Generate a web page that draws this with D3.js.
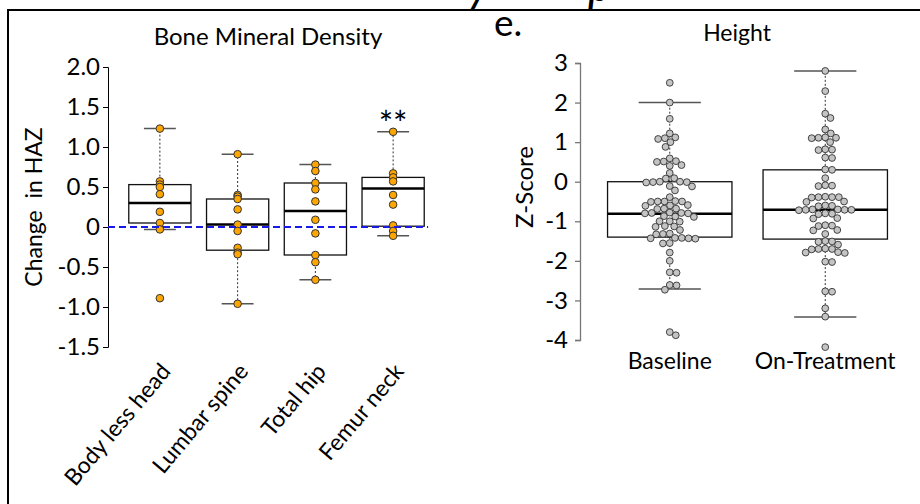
<!DOCTYPE html>
<html>
<head>
<meta charset="utf-8">
<script src="https://cdn.jsdelivr.net/npm/d3@7"></script>
<style>
  body { margin: 0; background: #fff; }
  svg { display: block; }
  text { font-family: Lato, "Open Sans", sans-serif; fill: #000; }
</style>
</head>
<body>
<svg id="chart" width="920" height="504"></svg>
<script>
// --- Bone mineral density (change in HAZ) ---
const bmdSites = ['Body less head', 'Lumbar spine', 'Total hip', 'Femur neck'];
const bmdQ1 = [0.05, -0.29, -0.35, 0.01];
const bmdMedian = [0.30, 0.03, 0.20, 0.48];
const bmdQ3 = [0.53, 0.35, 0.55, 0.62];
const bmdLow = [-0.03, -0.96, -0.66, -0.11];
const bmdHigh = [1.23, 0.91, 0.78, 1.19];
const bmdPoints = [
  [1.23, 0.57, 0.53, 0.50, 0.41, 0.19, 0.05, -0.03, -0.89],
  [0.91, 0.40, 0.38, 0.35, 0.22, 0.03, -0.05, -0.26, -0.32, -0.34, -0.96],
  [0.78, 0.70, 0.55, 0.47, 0.32, 0.09, -0.08, -0.35, -0.44, -0.66],
  [1.19, 0.67, 0.62, 0.57, 0.40, 0.28, 0.02, -0.05, -0.11]
];
const bmdSignif = ['', '', '', '**'];
const bmdTicks = [-1.5, -1.0, -0.5, 0, 0.5, 1.0, 1.5, 2.0];

// --- Height z-score ---
const heightGroups = ['Baseline', 'On-Treatment'];
const heightQ1 = [-1.40, -1.45];
const heightMedian = [-0.81, -0.71];
const heightQ3 = [0.0, 0.30];
const heightLow = [-2.71, -3.42];
const heightHigh = [2.00, 2.80];
const heightPoints = [
  [2.50, 2.00, 1.59, 1.22, 1.12, 1.10, 1.08, 1.00, 0.88, 0.59, 0.52, 0.51, 0.50, 0.42, 0.40,
   0.22, 0.09, 0.08, -0.01, -0.01, 0.0, -0.02, 0.0, -0.12, -0.11, -0.22, -0.39, -0.50, -0.50,
   -0.49, -0.51, -0.50, -0.60, -0.61, -0.59, -0.68, -0.68, -0.69, -0.79, -0.80, -0.79, -0.78,
   -0.80, -0.88, -0.89, -0.87, -1.00, -1.00, -1.01, -1.13, -1.12, -1.14, -1.22, -1.32, -1.33,
   -1.31, -1.43, -1.42, -1.44, -1.43, -1.42, -1.55, -1.56, -1.79, -2.00, -2.29, -2.30, -2.61,
   -2.62, -2.73, -3.80, -3.88],
  [2.80, 2.29, 1.72, 1.61, 1.32, 1.22, 1.11, 1.12, 1.10, 1.11, 1.00, 0.81, 0.82, 0.80, 0.60,
   0.61, 0.30, 0.31, 0.09, -0.10, -0.09, -0.11, -0.39, -0.39, -0.40, -0.38, -0.39, -0.50, -0.51,
   -0.61, -0.60, -0.62, -0.71, -0.71, -0.70, -0.72, -0.71, -0.70, -0.81, -0.80, -0.82, -0.92,
   -0.93, -1.11, -1.10, -1.12, -1.22, -1.23, -1.32, -1.51, -1.50, -1.52, -1.59, -1.70, -1.71,
   -1.69, -1.70, -1.79, -1.80, -1.78, -2.02, -2.03, -2.78, -2.77, -3.20, -3.41, -4.18]
];
const heightTicks = [-4, -3, -2, -1, 0, 1, 2, 3];

const svg = d3.select('#chart');

// frame and the cut-off heading letters above it
svg.append('path')
  .attr('d', 'M8,504V10H920')
  .attr('fill', 'none')
  .attr('stroke', '#000')
  .attr('stroke-width', 2);
svg.append('text').attr('x', 468).attr('y', 1)
  .attr('font-size', 46).attr('font-style', 'italic').text('y');
svg.append('text').attr('x', 588).attr('y', 1)
  .attr('font-size', 46).attr('font-style', 'italic').text('p');

// simple beeswarm: nearest free horizontal offset
function swarm(values, y, r) {
  const placed = [];
  const sorted = values.map(v => ({ v, y: y(v) })).sort((a, b) => a.y - b.y);
  const d = 2 * r;
  sorted.forEach(p => {
    const cands = [0];
    placed.forEach(q => {
      const dy = Math.abs(q.y - p.y);
      if (dy < d) {
        const dx = Math.sqrt(d * d - dy * dy);
        cands.push(q.x + dx, q.x - dx);
      }
    });
    cands.sort((a, b) => Math.abs(a) - Math.abs(b));
    p.x = cands.find(x => placed.every(q => Math.hypot(q.x - x, q.y - p.y) >= d - 0.01));
    placed.push(p);
  });
  return placed;
}

function boxPanel(g, opt) {
  const { x, y, cats, q1, med, q3, lo, hi, boxFrac, capFrac } = opt;
  const bw = x.bandwidth();
  const nodes = g.selectAll('g.box')
    .data(cats)
    .enter()
    .append('g')
    .attr('class', 'box')
    .attr('transform', c => `translate(${x(c) + bw / 2},0)`);

  // whiskers
  nodes.append('line')
    .attr('y1', (c, i) => y(q3[i])).attr('y2', (c, i) => y(hi[i]))
    .attr('stroke', '#333').attr('stroke-dasharray', '2,2');
  nodes.append('line')
    .attr('y1', (c, i) => y(q1[i])).attr('y2', (c, i) => y(lo[i]))
    .attr('stroke', '#333').attr('stroke-dasharray', '2,2');
  nodes.append('line')
    .attr('x1', -bw * capFrac / 2).attr('x2', bw * capFrac / 2)
    .attr('y1', (c, i) => y(hi[i])).attr('y2', (c, i) => y(hi[i]))
    .attr('stroke', '#555').attr('stroke-width', 1.5);
  nodes.append('line')
    .attr('x1', -bw * capFrac / 2).attr('x2', bw * capFrac / 2)
    .attr('y1', (c, i) => y(lo[i])).attr('y2', (c, i) => y(lo[i]))
    .attr('stroke', '#555').attr('stroke-width', 1.5);

  // box + median
  nodes.append('rect')
    .attr('x', -bw * boxFrac / 2)
    .attr('width', bw * boxFrac)
    .attr('y', (c, i) => y(q3[i]))
    .attr('height', (c, i) => y(q1[i]) - y(q3[i]))
    .attr('fill', 'none')
    .attr('stroke', '#111')
    .attr('stroke-width', 1.3);
  nodes.append('line')
    .attr('x1', -bw * boxFrac / 2).attr('x2', bw * boxFrac / 2)
    .attr('y1', (c, i) => y(med[i])).attr('y2', (c, i) => y(med[i]))
    .attr('stroke', '#000').attr('stroke-width', 2.5);
  return nodes;
}

// plain hyphen minus like the source
const fmtL = d => d === 0 ? '0' : d.toFixed(1);
const fmtR = d => String(d);

// ===== left panel =====
const xL = d3.scaleBand().domain(bmdSites).range([121, 432]);
const yL = d3.scaleLinear().domain([-1.5, 2]).range([347, 67]);
const gL = svg.append('g');

gL.append('g')
  .attr('transform', 'translate(108,0)')
  .call(d3.axisLeft(yL).tickValues(bmdTicks).tickSize(5).tickPadding(3).tickFormat(fmtL))
  .call(a => a.selectAll('text').attr('font-size', 24).attr('font-family', 'Lato'))
  .call(a => a.selectAll('path,line').attr('stroke', '#000'));

const bmdNodes = boxPanel(gL, {
  x: xL, y: yL, cats: bmdSites, q1: bmdQ1, med: bmdMedian, q3: bmdQ3,
  lo: bmdLow, hi: bmdHigh, boxFrac: 0.8, capFrac: 0.41
});

gL.append('line')
  .attr('x1', 108).attr('x2', xL(bmdSites[3]) + xL.bandwidth() * 0.95)
  .attr('y1', yL(0)).attr('y2', yL(0))
  .attr('stroke', '#1a1ae6').attr('stroke-width', 2).attr('stroke-dasharray', '7,4');

bmdNodes.selectAll('circle')
  .data((c, i) => bmdPoints[i])
  .enter()
  .append('circle')
  .attr('cx', 0)
  .attr('cy', v => yL(v))
  .attr('r', 3.8)
  .attr('fill', '#ffa500')
  .attr('stroke', '#333')
  .attr('stroke-width', 1);

bmdNodes.append('text')
  .attr('y', (c, i) => yL(bmdHigh[i]) + 4)
  .attr('text-anchor', 'middle')
  .attr('font-size', 34)
  .text((c, i) => bmdSignif[i]);

gL.selectAll('text.xlab')
  .data(bmdSites)
  .enter()
  .append('text')
  .attr('class', 'xlab')
  .attr('transform', c => `translate(${xL(c) + xL.bandwidth() / 2 + 12},372) rotate(-50)`)
  .attr('text-anchor', 'end')
  .attr('font-size', 23)
  .text(c => c);

gL.append('text')
  .attr('transform', 'translate(42,207) rotate(-90)')
  .attr('text-anchor', 'middle')
  .attr('font-size', 23)
  .style('white-space', 'pre')
  .text('Change  in HAZ');

gL.append('text')
  .attr('x', 268).attr('y', 45)
  .attr('text-anchor', 'middle')
  .attr('font-size', 24)
  .text('Bone Mineral Density');

// ===== right panel =====
const xR = d3.scaleBand().domain(heightGroups).range([592, 903]);
const yR = d3.scaleLinear().domain([-4, 3]).range([340, 63]);
const gR = svg.append('g');

gR.append('g')
  .attr('transform', 'translate(580,0)')
  .call(d3.axisLeft(yR).tickValues(heightTicks).tickSize(5).tickPadding(7).tickFormat(fmtR))
  .call(a => a.selectAll('text').attr('font-size', 24).attr('font-family', 'Lato'))
  .call(a => a.selectAll('path,line').attr('stroke', '#777').attr('stroke-width', 1.3));

const hNodes = boxPanel(gR, {
  x: xR, y: yR, cats: heightGroups, q1: heightQ1, med: heightMedian, q3: heightQ3,
  lo: heightLow, hi: heightHigh, boxFrac: 0.8, capFrac: 0.4
});

hNodes.selectAll('circle')
  .data((c, i) => swarm(heightPoints[i], yR, 3.4))
  .enter()
  .append('circle')
  .attr('cx', p => p.x)
  .attr('cy', p => p.y)
  .attr('r', 3.4)
  .attr('fill', '#c4c4c4')
  .attr('stroke', '#333')
  .attr('stroke-width', 0.9);

gR.selectAll('text.xlab')
  .data(heightGroups)
  .enter()
  .append('text')
  .attr('class', 'xlab')
  .attr('x', c => xR(c) + xR.bandwidth() / 2)
  .attr('y', 369)
  .attr('text-anchor', 'middle')
  .attr('font-size', 23)
  .text(c => c);

gR.append('text')
  .attr('transform', 'translate(533,187) rotate(-90)')
  .attr('text-anchor', 'middle')
  .attr('font-size', 24)
  .text('Z-Score');

gR.append('text')
  .attr('x', 737).attr('y', 41)
  .attr('text-anchor', 'middle')
  .attr('font-size', 23)
  .text('Height');

gR.append('text')
  .attr('x', 494).attr('y', 36)
  .attr('font-size', 37)
  .text('e.');
</script>
</body>
</html>
